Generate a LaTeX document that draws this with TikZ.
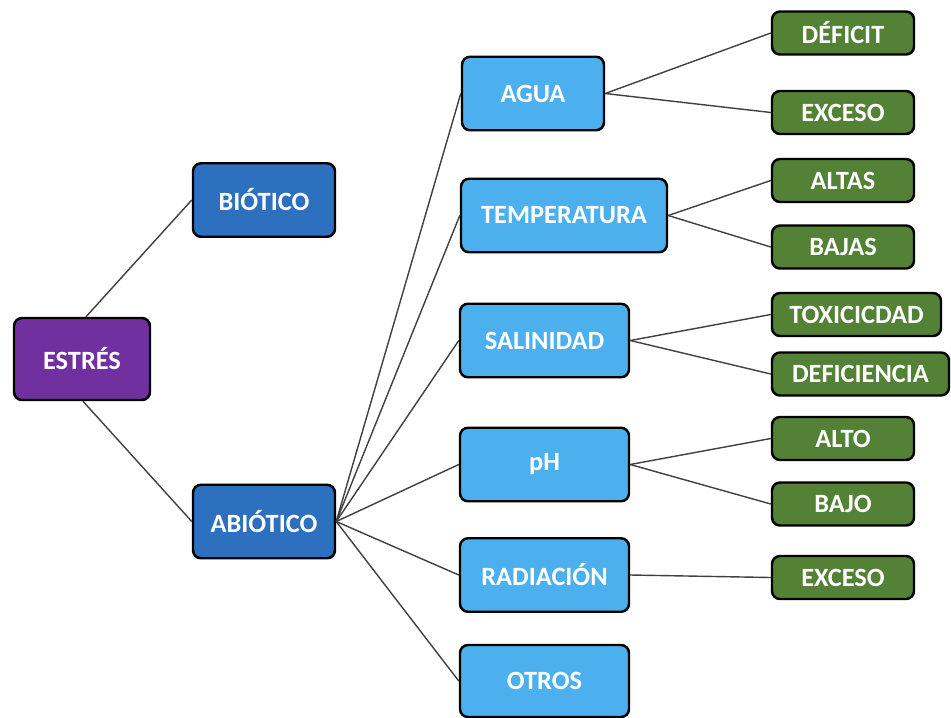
\documentclass[tikz,border=0pt]{standalone}
\usepackage{fontspec}
\setmainfont{Carlito}

\definecolor{rootpurple}{HTML}{7030A0}
\definecolor{darkblue}{HTML}{2E70C0}
\definecolor{lightblue}{HTML}{4DB0EE}
\definecolor{leafgreen}{HTML}{538135}

\tikzset{
  box/.style={draw=black, line width=1.4pt, rounded corners=0.16cm, text=white,
    inner sep=0pt, font=\fontsize{15}{18}\selectfont\bfseries},
  rootbox/.style={box, fill=rootpurple, minimum width=2.72cm, minimum height=1.64cm},
  kindbox/.style={box, fill=darkblue, minimum width=2.84cm, minimum height=1.47cm},
  factorbox/.style={box, fill=lightblue, minimum width=3.38cm, minimum height=1.47cm},
  leafbox/.style={box, fill=leafgreen, minimum width=2.84cm, minimum height=0.86cm},
  link/.style={draw=black!75, line width=0.8pt}
}

\begin{document}
\begin{tikzpicture}[]
            \useasboundingbox (0,0) rectangle (19.02,-14.34);
            % root
            \node[rootbox] (estres) at (1.64,-7.18) {ESTRÉS};
            % types
            \node[kindbox] (biotico) at (5.28,-4.0) {BIÓTICO};
            \node[kindbox] (abiotico) at (5.28,-10.43) {ABIÓTICO};
            % factors
            \node[factorbox, minimum width=2.84cm] (agua) at (10.66,-1.87) {AGUA};
            \node[factorbox, minimum width=4.12cm] (temp) at (11.28,-4.31) {TEMPERATURA};
            \node[factorbox] (salin) at (10.89,-6.81) {SALINIDAD};
            \node[factorbox] (ph) at (10.89,-9.29) {pH};
            \node[factorbox] (radia) at (10.89,-11.5) {RADIACIÓN};
            \node[factorbox, minimum height=1.44cm] (otros) at (10.89,-13.62) {OTROS};
            % leaves
            \node[leafbox] (deficit) at (16.86,-0.66) {DÉFICIT};
            \node[leafbox] (exceso) at (16.86,-2.25) {EXCESO};
            \node[leafbox] (altas) at (16.86,-3.61) {ALTAS};
            \node[leafbox] (bajas) at (16.86,-4.94) {BAJAS};
            \node[leafbox, minimum width=3.38cm] (toxic) at (17.13,-6.29) {TOXICICDAD};
            \node[leafbox, minimum width=3.54cm] (defic) at (17.21,-7.48) {DEFICIENCIA};
            \node[leafbox] (alto) at (16.86,-8.77) {ALTO};
            \node[leafbox] (bajo) at (16.86,-10.08) {BAJO};
            \node[leafbox] (exceso2) at (16.86,-11.55) {EXCESO};
            % root links
            \draw[link] ([xshift=0.08cm]estres.north) -- (biotico.west);
            \draw[link] ([xshift=0.02cm]estres.south) -- (abiotico.west);
            % abiotic links
            \foreach \f in {agua,temp,salin,ph,radia,otros}
              \draw[link] (abiotico.east) -- (\f.west);
            % leaf links
            \draw[link] (agua.east) -- (deficit.west);
            \draw[link] (agua.east) -- (exceso.west);
            \draw[link] (temp.east) -- (altas.west);
            \draw[link] (temp.east) -- (bajas.west);
            \draw[link] (salin.east) -- (toxic.west);
            \draw[link] (salin.east) -- (defic.west);
            \draw[link] (ph.east) -- (alto.west);
            \draw[link] (ph.east) -- (bajo.west);
            \draw[link] (radia.east) -- (exceso2.west);
\end{tikzpicture}
\end{document}
